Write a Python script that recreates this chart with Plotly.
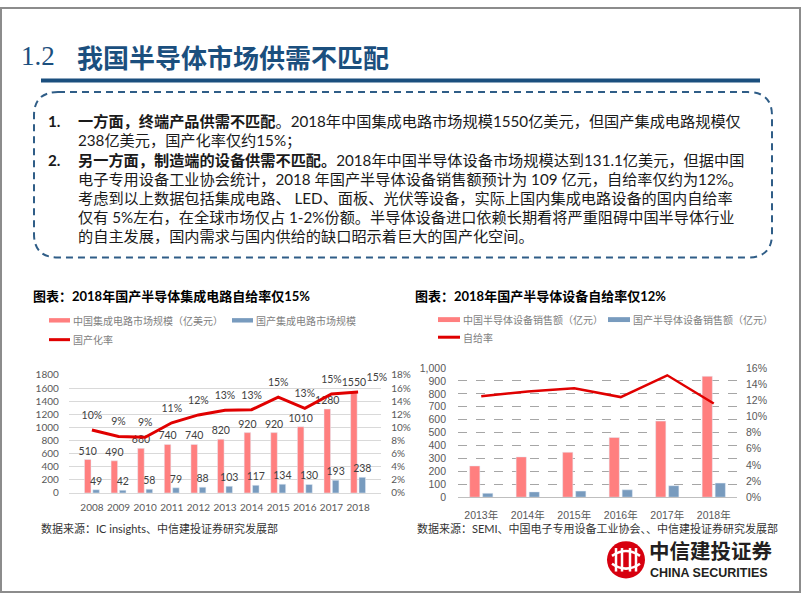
import plotly.graph_objects as go

W, H = 802, 602
def px(x):
    return x / W
def py(y):
    return 1 - y / H

# ---------------- data ----------------
ic_years = ['2008', '2009', '2010', '2011', '2012', '2013', '2014', '2015', '2016', '2017', '2018']
ic_market = [510, 490, 680, 740, 740, 820, 920, 920, 1010, 1280, 1550]
ic_domestic = [49, 42, 58, 79, 88, 103, 117, 134, 130, 193, 238]
ic_rate = [9.6, 8.6, 8.5, 10.7, 11.9, 12.6, 12.7, 14.6, 12.9, 15.1, 15.4]
ic_rate_labels = ['10%', '9%', '9%', '11%', '12%', '13%', '13%', '15%', '13%', '15%', '15%']

eq_years = ['2013年', '2014年', '2015年', '2016年', '2017年', '2018年']
eq_market = [242, 312, 348, 462, 589, 936]
eq_domestic = [30, 41, 47, 57, 89, 109]
eq_rate = [12.5, 13.1, 13.5, 12.4, 15.1, 11.6]

PINK = '#FF7F7F'
BLUE = '#789BBE'
RED = '#E00000'
NAVY = '#1B4F7E'
CJK = 'Noto Sans CJK SC'
LAT = 'Lato, Noto Sans CJK SC'

fig = go.Figure()

# ---------------- left chart ----------------
lbl_font = dict(size=10.5, color='#404040', family=LAT)
fig.add_trace(go.Bar(x=ic_years, y=ic_market, name='中国集成电路市场规模（亿美元）',
                     marker_color=PINK, width=0.245, offset=-0.28,
                     text=[str(v) for v in ic_market], textposition='outside',
                     constraintext='none', textfont=lbl_font,
                     cliponaxis=False, xaxis='x', yaxis='y', showlegend=False))
fig.add_trace(go.Bar(x=ic_years, y=ic_domestic, name='国产集成电路市场规模',
                     marker_color=BLUE, width=0.245, offset=0.035,
                     text=[str(v) for v in ic_domestic], textposition='outside',
                     constraintext='none', textfont=lbl_font,
                     cliponaxis=False, xaxis='x', yaxis='y', showlegend=False))
fig.add_trace(go.Scatter(x=ic_years, y=ic_rate, name='国产化率', mode='lines+markers+text',
                         line=dict(color=RED, width=3),
                         marker=dict(size=12, opacity=0),
                         text=ic_rate_labels,
                         textposition=['top center'] * 10 + ['top right'],
                         textfont=lbl_font,
                         cliponaxis=False, xaxis='x', yaxis='y2', showlegend=False))

# ---------------- right chart ----------------
fig.add_trace(go.Bar(x=eq_years, y=eq_market, name='中国半导体设备销售额（亿元）',
                     marker_color=PINK, width=0.22, offset=-0.25,
                     xaxis='x2', yaxis='y3', showlegend=False))
fig.add_trace(go.Bar(x=eq_years, y=eq_domestic, name='国产半导体设备销售额（亿元）',
                     marker_color=BLUE, width=0.22, offset=0.03,
                     xaxis='x2', yaxis='y3', showlegend=False))
fig.add_trace(go.Scatter(x=eq_years, y=eq_rate, name='自给率', mode='lines',
                         line=dict(color=RED, width=2.5),
                         xaxis='x2', yaxis='y4', showlegend=False))

tick_l = dict(size=10, color='#595959', family=LAT)
tick_r = dict(size=10.5, color='#595959', family='Liberation Sans, Noto Sans CJK SC')

fig.update_layout(
    width=W, height=H, margin=dict(l=0, r=0, t=0, b=0),
    paper_bgcolor='white', plot_bgcolor='rgba(0,0,0,0)',
    barmode='overlay',
    xaxis=dict(domain=[px(68.8), px(381.2)], anchor='y', type='category',
               showline=True, linecolor='#D9D9D9', linewidth=1, showgrid=False,
               ticks='', tickfont=tick_l, tickangle=0, ticklabelstandoff=5),
    yaxis=dict(domain=[py(496.7), py(376)], range=[0, 1800], dtick=200,
               showgrid=True, gridcolor='#D9D9D9', gridwidth=1, zeroline=False,
               tickfont=tick_l, ticklabelstandoff=9, anchor='x'),
    yaxis2=dict(overlaying='y', side='right', anchor='x', range=[0, 18], dtick=2,
                ticksuffix='%', showgrid=False, zeroline=False,
                tickfont=tick_l, ticklabelstandoff=9),
    xaxis2=dict(domain=[px(458), px(737)], anchor='y3', type='category',
                showline=True, linecolor='#BFBFBF', linewidth=1, showgrid=False,
                ticks='', tickfont=tick_r, tickangle=0, ticklabelstandoff=8),
    yaxis3=dict(domain=[py(501), py(369)], range=[0, 1000], dtick=100, tickformat=',d',
                showgrid=True, gridcolor='#A6A6A6', griddash='dash', gridwidth=1,
                zeroline=False, tickfont=tick_r, ticklabelstandoff=11, anchor='x2'),
    yaxis4=dict(overlaying='y3', side='right', anchor='x2', range=[0, 16], dtick=2,
                ticksuffix='%', showgrid=False, zeroline=False,
                tickfont=tick_r, ticklabelstandoff=8),
)

shapes = []
annos = []

def text(x, y, s, size, color='#000000', family=CJK, anchor='left', weight='normal'):
    annos.append(dict(x=px(x), y=py(y), xref='paper', yref='paper', text=s, showarrow=False,
                      xanchor=anchor, yanchor='middle', borderpad=0,
                      font=dict(size=size, color=color, family=family, weight=weight)))

def rect(x0, y0, x1, y1, color):
    shapes.append(dict(type='rect', xref='paper', yref='paper', x0=px(x0), x1=px(x1),
                       y0=py(y0), y1=py(y1), fillcolor=color, line=dict(width=0)))

def hline(x0, x1, y, color, width):
    shapes.append(dict(type='line', xref='paper', yref='paper', x0=px(x0), x1=px(x1),
                       y0=py(y), y1=py(y), line=dict(color=color, width=width)))

# slide frame
shapes.append(dict(type='rect', xref='paper', yref='paper', x0=px(1), x1=px(800),
                   y0=py(598), y1=py(1), line=dict(color='#8C8C8C', width=2)))

# title
text(20, 50, '1.2', 27, NAVY, 'Liberation Serif, DejaVu Serif')
text(76, 51, '我国半导体市场供需不匹配', 26, NAVY, CJK, weight='bold')
hline(41, 760, 75, NAVY, 4)

# dashed rounded box
x0, x1, y0, y1, r = 34, 772, 87, 256, 24
path = (f'M {px(x0+r)},{py(y0)} L {px(x1-r)},{py(y0)} Q {px(x1)},{py(y0)} {px(x1)},{py(y0+r)} '
        f'L {px(x1)},{py(y1-r)} Q {px(x1)},{py(y1)} {px(x1-r)},{py(y1)} '
        f'L {px(x0+r)},{py(y1)} Q {px(x0)},{py(y1)} {px(x0)},{py(y1-r)} '
        f'L {px(x0)},{py(y0+r)} Q {px(x0)},{py(y0)} {px(x0+r)},{py(y0)} Z')
shapes.append(dict(type='path', xref='paper', yref='paper', path=path,
                   line=dict(color='#2F5D87', width=2, dash='7px,5px')))

body_lines = [
    '<b>一方面，终端产品供需不匹配</b>。2018年中国集成电路市场规模1550亿美元，但国产集成电路规模仅',
    '238亿美元，国产化率仅约15%；',
    '<b>另一方面，制造端的设备供需不匹配。</b>2018年中国半导体设备市场规模达到131.1亿美元，但据中国',
    '电子专用设备工业协会统计，2018 年国产半导体设备销售额预计为 109 亿元，自给率仅约为12%。',
    '考虑到以上数据包括集成电路、 LED、面板、光伏等设备，实际上国内集成电路设备的国内自给率',
    '仅有 5%左右，在全球市场仅占 1-2%份额。半导体设备进口依赖长期看将严重阻碍中国半导体行业',
    '的自主发展，国内需求与国内供给的缺口昭示着巨大的国产化空间。',
]
ys = [117, 136.5, 156, 175.5, 195, 214.5, 234]
for s, y in zip(body_lines, ys):
    text(77, y, s, 15.2, '#1A1A1A', LAT)
text(47, ys[0], '<b>1.</b>', 15.2, '#1A1A1A', LAT)
text(47, ys[2], '<b>2.</b>', 15.2, '#1A1A1A', LAT)

# chart titles
text(32, 295, '图表：2018年国产半导体集成电路自给率仅15%', 13, '#000000', LAT, weight='bold')
text(414, 295, '图表：2018年国产半导体设备自给率仅12%', 13, '#000000', LAT, weight='bold')

# left legend
LG = '#7F7F7F'
rect(49, 318, 70, 322.5, PINK)
text(72, 320, '中国集成电路市场规模（亿美元）', 10, LG)
rect(232, 318, 253, 322.5, BLUE)
text(255, 320, '国产集成电路市场规模', 10, LG)
hline(49, 70, 340, RED, 3)
text(72, 340, '国产化率', 10, LG)

# right legend
rect(438, 317, 460, 322, PINK)
text(462, 319.5, '中国半导体设备销售额（亿元）', 10, LG)
rect(608, 317, 630, 322, BLUE)
text(632, 319.5, '国产半导体设备销售额（亿元）', 10, LG)
hline(438, 460, 337.5, RED, 3)
text(462, 337.5, '自给率', 10, LG)

# sources
text(40, 533, '数据来源：IC insights、中信建投证券研究发展部', 11, '#333333', LAT)
text(416, 533, '数据来源：SEMI、中国电子专用设备工业协会、、中信建投证券研究发展部', 11, '#333333', LAT)

# logo
cx, cy, rr = 626, 565, 19
shapes.append(dict(type='circle', xref='paper', yref='paper', x0=px(cx-rr), x1=px(cx+rr),
                   y0=py(cy+rr), y1=py(cy-rr), fillcolor='#D7000F', line=dict(width=0)))
for dx in (-10, -4, 4, 10):
    shapes.append(dict(type='line', xref='paper', yref='paper', x0=px(cx+dx), x1=px(cx+dx),
                       y0=py(cy+12), y1=py(cy-12), line=dict(color='white', width=2.5)))
shapes.append(dict(type='path', xref='paper', yref='paper',
                   path=f'M {px(cx-14)},{py(cy-4)} Q {px(cx)},{py(cy-14)} {px(cx+14)},{py(cy-4)}',
                   line=dict(color='white', width=2.5)))
shapes.append(dict(type='path', xref='paper', yref='paper',
                   path=f'M {px(cx-14)},{py(cy+4)} Q {px(cx)},{py(cy+14)} {px(cx+14)},{py(cy+4)}',
                   line=dict(color='white', width=2.5)))
text(648, 555, '中信建投证券', 20.5, '#231F20', CJK, weight='bold')
text(649, 578.5, 'CHINA SECURITIES', 12.5, '#231F20', 'Liberation Sans', weight='bold')

fig.update_layout(shapes=shapes, annotations=annos)

fig.write_html('out.html', config={'displayModeBar': False},
               post_script="document.body.style.margin='0';document.body.style.overflow='hidden';")
